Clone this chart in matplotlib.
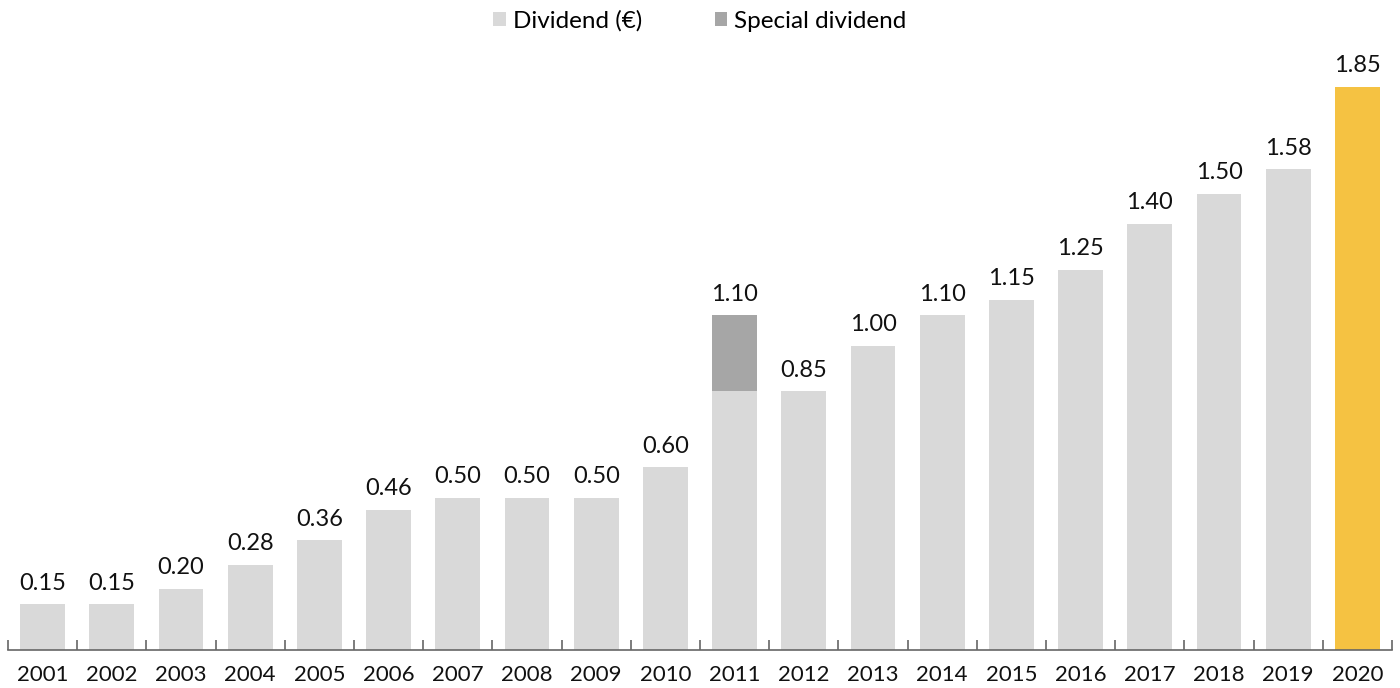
import matplotlib
matplotlib.use("Agg")
import matplotlib.pyplot as plt
from matplotlib.patches import Patch
import numpy as np

years = [str(y) for y in range(2001, 2021)]
dividend = [0.15, 0.15, 0.20, 0.28, 0.36, 0.46, 0.50, 0.50, 0.50, 0.60,
            0.85, 0.85, 1.00, 1.10, 1.15, 1.25, 1.40, 1.50, 1.58, 1.85]
special = [0, 0, 0, 0, 0, 0, 0, 0, 0, 0,
           0.25, 0, 0, 0, 0, 0, 0, 0, 0, 0]
labels = ["0.15", "0.15", "0.20", "0.28", "0.36", "0.46", "0.50", "0.50", "0.50", "0.60",
          "1.10", "0.85", "1.00", "1.10", "1.15", "1.25", "1.40", "1.50", "1.58", "1.85"]

plt.rcParams['font.family'] = ['Lato', 'DejaVu Sans']

C_DIV = "#d9d9d9"
C_SPE = "#a6a6a6"
C_HL = "#f5c242"

fig = plt.figure(figsize=(14, 6.88), dpi=100)
ax = fig.add_axes([8/1400, 38/688, 1384/1400, 650/688])

x = np.arange(len(years))
colors = [C_DIV] * (len(years) - 1) + [C_HL]
ax.bar(x, dividend, width=0.65, color=colors, zorder=2)
ax.bar(x, special, bottom=dividend, width=0.65, color=C_SPE, zorder=2)

totals = [d + s for d, s in zip(dividend, special)]
for xi, t, lab in zip(x, totals, labels):
    ax.text(xi, t + 0.035, lab, ha="center", va="bottom", fontsize=17,
            color="#111111")

ax.set_xlim(-0.5, len(years) - 0.5)
ax.set_ylim(0, 650/304.3)

for s in ["top", "right", "left"]:
    ax.spines[s].set_visible(False)
ax.spines["bottom"].set_color("#666666")
ax.spines["bottom"].set_linewidth(1.2)
ax.set_yticks([])

ax.set_xticks(np.arange(-0.5, len(years), 1.0))
ax.set_xticklabels([])
ax.tick_params(axis="x", which="major", direction="in", length=7, color="#666666", width=1.2)
ax.set_xticks(x, minor=True)
ax.set_xticklabels(years, minor=True, fontsize=16, color="#111111")
ax.tick_params(axis="x", which="minor", length=0, pad=11)

handles = [Patch(facecolor=C_DIV, label="Dividend (€)"),
           Patch(facecolor=C_SPE, label="Special dividend")]
fig.legend(handles=handles, loc="upper center", bbox_to_anchor=(0.5, 1.017), ncol=2,
           frameon=False, prop={"size": 17.5},
           handlelength=0.5, handleheight=0.5,
           handletextpad=0.3, columnspacing=3.0)

fig.savefig("out.png", dpi=100)
